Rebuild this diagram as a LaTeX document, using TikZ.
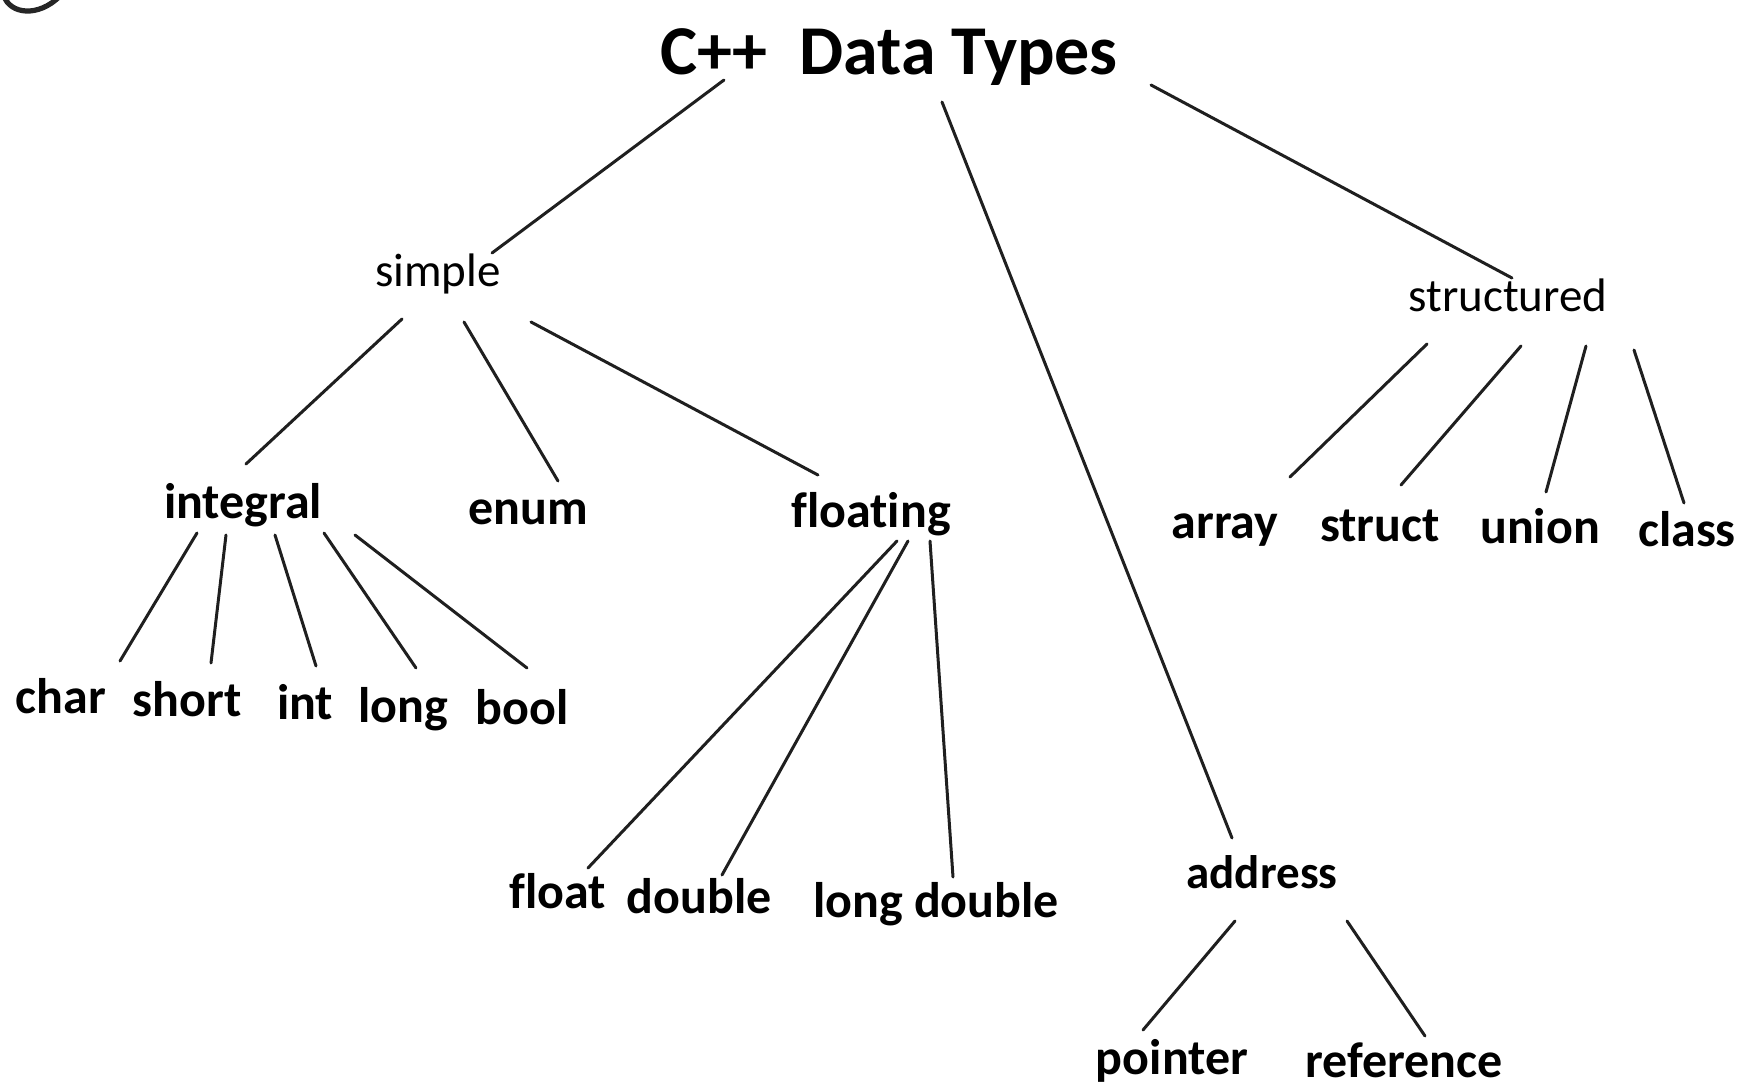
\documentclass[tikz,border=0pt]{standalone}
\usepackage{fontspec}
\setmainfont[Ligatures=NoCommon]{Carlito}
\begin{document}
\begin{tikzpicture}[x=0.5pt,y=-0.5pt,
  lbl/.style={font=\fontsize{25}{30}\selectfont\bfseries, anchor=base, inner sep=0pt},
  lite/.style={font=\fontsize{23.5}{28}\selectfont, anchor=base, inner sep=0pt},
  ttl/.style={font=\fontsize{35}{42}\selectfont\bfseries, anchor=base, inner sep=0pt},
  conn/.style={line width=1.5pt, draw=black!88, line cap=round}]
\useasboundingbox (0,0) rectangle (1741,1092);
% corner mark
\draw[line width=2.6pt, black!85] (4,-4) .. controls (10,14) and (38,18) .. (60,-4);
% nodes
\node[ttl]  (title)      at (889,74)   {C++\ \ Data Types};
\node[lite] (simple)     at (438,286)  {simple};
\node[lite] (structured) at (1508,311) {structured};
\node[lbl]  (integral)   at (243,518)  {integral};
\node[lbl]  (enum)       at (528,524)  {enum};
\node[lbl]  (floating)   at (871,527)  {floating};
\node[lbl]  (array)      at (1225,538) {array};
\node[lbl]  (struct)     at (1380,541) {struct};
\node[lbl]  (union)      at (1540,543) {union};
\node[lbl]  (class)      at (1687,546) {class};
\node[lbl]  (char)       at (61,713)   {char};
\node[lbl]  (short)      at (187,716)  {short};
\node[lbl]  (int)        at (305,719)  {int};
\node[lbl]  (long)       at (403,722)  {long};
\node[lbl]  (bool)       at (522,724)  {bool};
\node[lbl]  (float)      at (558,908)  {float};
\node[lbl]  (double)     at (699,913)  {double};
\node[lbl]  (longdouble) at (936,917)  {long double};
\node[lbl, font=\fontsize{23.5}{28}\selectfont\bfseries] (address) at (1262,888) {address};
\node[lbl]  (pointer)    at (1172,1074) {pointer};
\node[lbl]  (reference)  at (1404,1077) {reference};
% connectors
\draw[conn] ([shift={(-165,6)}]title.base) -- ([shift={(54,-33)}]simple.base);
\draw[conn] ([shift={(53,28)}]title.base) -- ([shift={(-30,-50)}]address.base);
\draw[conn] ([shift={(262,11)}]title.base) -- ([shift={(4,-33)}]structured.base);
\draw[conn] ([shift={(-36,33)}]simple.base) -- ([shift={(3,-54)}]integral.base);
\draw[conn] ([shift={(26,36)}]simple.base) -- ([shift={(30,-43)}]enum.base);
\draw[conn] ([shift={(93,36)}]simple.base) -- ([shift={(-53,-52)}]floating.base);
\draw[conn] ([shift={(-46,15)}]integral.base) -- ([shift={(59,-52)}]char.base);
\draw[conn] ([shift={(-17,17)}]integral.base) -- ([shift={(24,-53)}]short.base);
\draw[conn] ([shift={(32,17)}]integral.base) -- ([shift={(11,-53)}]int.base);
\draw[conn] ([shift={(81,15)}]integral.base) -- ([shift={(13,-54)}]long.base);
\draw[conn] ([shift={(112,17)}]integral.base) -- ([shift={(5,-56)}]bool.base);
\draw[conn] ([shift={(26,14)}]floating.base) -- ([shift={(30,-40)}]float.base);
\draw[conn] ([shift={(37,14)}]floating.base) -- ([shift={(23,-38)}]double.base);
\draw[conn] ([shift={(59,14)}]floating.base) -- ([shift={(17,-40)}]longdouble.base);
\draw[conn] ([shift={(-81,33)}]structured.base) -- ([shift={(65,-61)}]array.base);
\draw[conn] ([shift={(13,35)}]structured.base) -- ([shift={(21,-56)}]struct.base);
\draw[conn] ([shift={(78,35)}]structured.base) -- ([shift={(6,-51)}]union.base);
\draw[conn] ([shift={(126,39)}]structured.base) -- ([shift={(-3,-43)}]class.base);
\draw[conn] ([shift={(-27,33)}]address.base) -- ([shift={(-29,-44)}]pointer.base);
\draw[conn] ([shift={(85,33)}]address.base) -- ([shift={(21,-41)}]reference.base);
\end{tikzpicture}
\end{document}
